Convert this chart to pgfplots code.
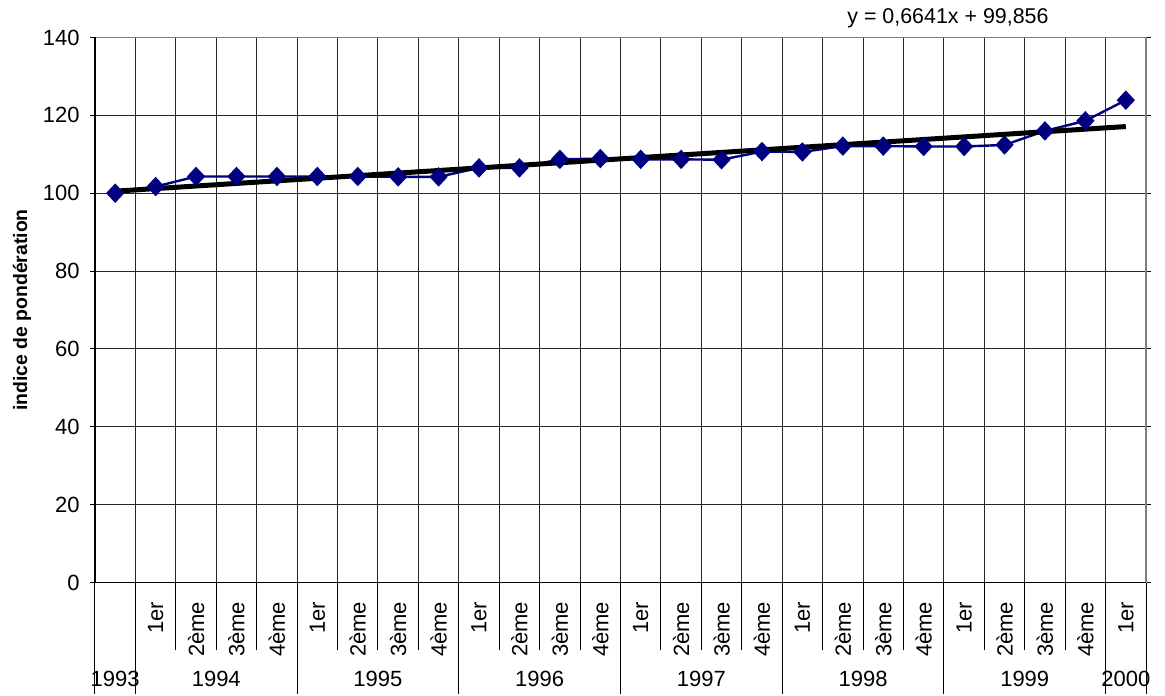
\documentclass[border=0pt]{standalone}
\usepackage{fontspec}
\setmainfont{Liberation Sans}
\usepackage{pgfplots}
\pgfplotsset{compat=1.18}
\definecolor{serie}{HTML}{000080}

\begin{document}
\begin{tikzpicture}[
    yearlabel/.style={anchor=base, inner sep=0pt, yshift=-52pt, font=\fontsize{11}{13}\selectfont},
]
\begin{axis}[
    scale only axis,
    width=525.5pt, height=272.5pt,
    xmin=0, xmax=26, ymin=0, ymax=140,
    clip=false,
    axis line style={draw=gray, line width=0.8pt},
    ytick={0,20,...,140},
    ymajorgrids,
    grid style={black!85, line width=0.5pt},
    xtick={1.5,2.5,3.5,4.5,5.5,6.5,7.5,8.5,9.5,10.5,11.5,12.5,13.5,14.5,15.5,16.5,17.5,18.5,19.5,20.5,21.5,22.5,23.5,24.5,25.5},
    xticklabels={1er,2ème,3ème,4ème,1er,2ème,3ème,4ème,1er,2ème,3ème,4ème,1er,2ème,3ème,4ème,1er,2ème,3ème,4ème,1er,2ème,3ème,4ème,1er},
    minor xtick={1,...,25},
    xminorgrids,
    minor grid style={black!85, line width=0.5pt},
    xtick style={draw=none},
    minor tick length=0pt,
    tick align=outside,
    ytick style={black, line width=0.5pt},
    major tick length=2.5pt,
    xticklabel style={rotate=90, anchor=east, inner sep=0pt},
    xticklabel shift=7pt,
    yticklabel style={anchor=east, inner sep=0pt},
    yticklabel shift=5pt,
    tick label style={font=\fontsize{11}{13}\selectfont},
    /pgf/number format/assume math mode=true,
]
\addplot[serie, line width=1.2pt, mark=diamond*, mark size=4pt,
    mark options={xscale=1.25, fill=serie, draw=serie}] coordinates {
    (0.5,100) (1.5,101.7) (2.5,104.3) (3.5,104.3) (4.5,104.3) (5.5,104.3)
    (6.5,104.3) (7.5,104.2) (8.5,104.2) (9.5,106.5) (10.5,106.5) (11.5,108.7)
    (12.5,108.9) (13.5,108.7) (14.5,108.7) (15.5,108.6) (16.5,110.7) (17.5,110.6)
    (18.5,112.1) (19.5,112.1) (20.5,112.0) (21.5,112.0) (22.5,112.4) (23.5,116.0)
    (24.5,118.6) (25.5,123.9)
};
% linear trend (Excel): y = 0,6641x + 99,856, x = 1..26
\addplot[black, line width=2.5pt] coordinates {(0.5,100.52) (25.5,117.12)};

\draw[black, line width=0.7pt] (rel axis cs:0,1) -- (rel axis cs:0,0) -- (rel axis cs:1,0);
\pgfplotsinvokeforeach{2,3,4,6,7,8,10,11,12,14,15,16,18,19,20,22,23,24}{
    \draw[black, line width=0.5pt] (axis cs:#1,0) -- ++(0,-33.5pt);
}
\pgfplotsinvokeforeach{0,1,5,9,13,17,21,25,26}{
    \draw[black, line width=0.5pt] (axis cs:#1,0) -- ++(0,-55.5pt);
}
\node[yearlabel] at (axis cs:0.5,0) {1993};
\node[yearlabel] at (axis cs:3,0) {1994};
\node[yearlabel] at (axis cs:7,0) {1995};
\node[yearlabel] at (axis cs:11,0) {1996};
\node[yearlabel] at (axis cs:15,0) {1997};
\node[yearlabel] at (axis cs:19,0) {1998};
\node[yearlabel] at (axis cs:23,0) {1999};
\node[yearlabel] at (axis cs:25.5,0) {2000};
\node[xshift=-36.5pt, rotate=90, font=\fontsize{9.7}{12}\selectfont\bfseries] at (rel axis cs:0,0.5) {indice de pondération};
\node[yshift=9.5pt, font=\fontsize{10.7}{12}\selectfont] at (axis cs:21.1,140) {y = 0,6641x + 99,856};

\coordinate (sw) at (rel axis cs:0,0);
\coordinate (ne) at (rel axis cs:1,1);
\end{axis}
\pgfresetboundingbox
\path[use as bounding box] ([shift={(-47.5pt,-56.25pt)}]sw) rectangle ([shift={(9.5pt,18.75pt)}]ne);
\end{tikzpicture}
\end{document}
